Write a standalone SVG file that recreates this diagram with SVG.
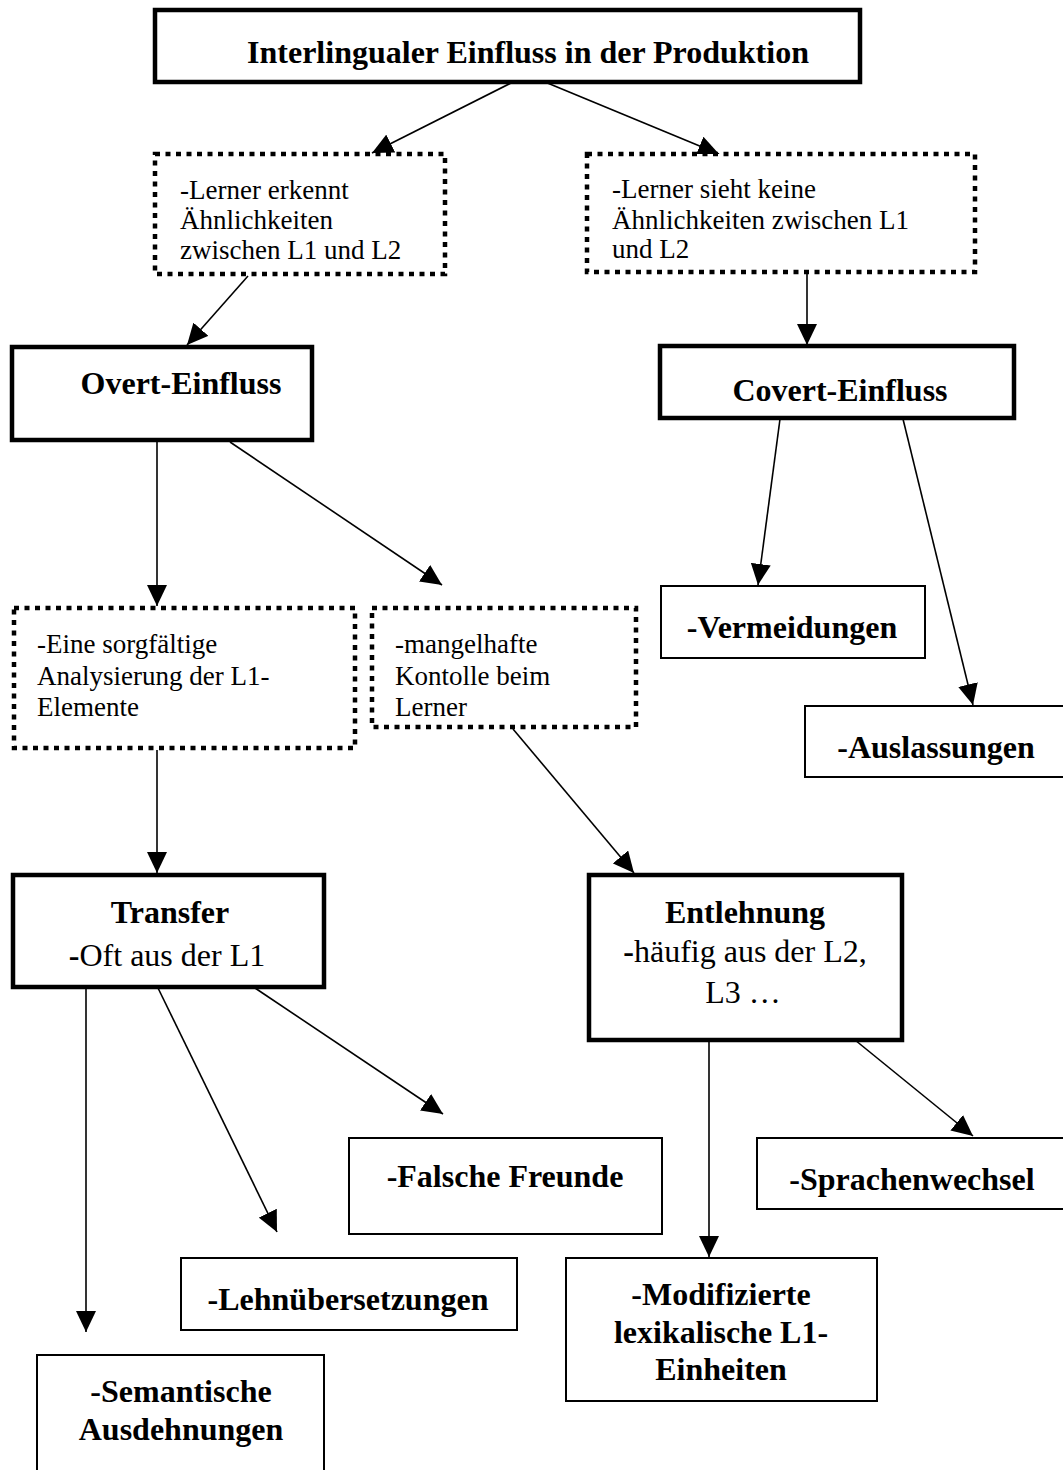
<svg xmlns="http://www.w3.org/2000/svg" width="1063" height="1470" viewBox="0 0 1063 1470">
<style>
.thick{fill:#fff;stroke:#000;stroke-width:4.5}
.thin{fill:#fff;stroke:#000;stroke-width:2}
.dot{fill:#fff;stroke:#000;stroke-width:4.5;stroke-dasharray:5 5.5}
.b{font-family:"Liberation Serif","Times New Roman",serif;font-weight:bold;font-size:32px;fill:#000}
.r{font-family:"Liberation Serif","Times New Roman",serif;font-size:32px;fill:#000}
.s{font-family:"Liberation Serif","Times New Roman",serif;font-size:27px;fill:#000}
.c{text-anchor:middle}
.ln{stroke:#000;stroke-width:1.6;fill:none;marker-end:url(#ah)}
</style>
<defs>
<marker id="ah" markerUnits="userSpaceOnUse" markerWidth="22" markerHeight="20" refX="21" refY="10" orient="auto" viewBox="0 0 22 20">
<path d="M0,0 L21,10 L0,20 z" fill="#000"/>
</marker>
</defs>
<rect width="1063" height="1470" fill="#fff"/>
<g id="connectors">
<line class="ln" x1="513" y1="82" x2="372" y2="153"/>
<line class="ln" x1="545" y1="82" x2="719" y2="154"/>
<line class="ln" x1="248" y1="276" x2="187" y2="345"/>
<line class="ln" x1="807" y1="273" x2="807" y2="345"/>
<line class="ln" x1="157" y1="441" x2="157" y2="606"/>
<line class="ln" x1="230" y1="442" x2="442" y2="585"/>
<line class="ln" x1="780" y1="419" x2="758" y2="585"/>
<line class="ln" x1="903" y1="419" x2="973" y2="705"/>
<line class="ln" x1="157" y1="750" x2="157" y2="873"/>
<line class="ln" x1="513" y1="729" x2="634" y2="873"/>
<line class="ln" x1="86" y1="988" x2="86" y2="1332"/>
<line class="ln" x1="158" y1="988" x2="277" y2="1232"/>
<line class="ln" x1="255" y1="988" x2="443" y2="1114"/>
<line class="ln" x1="709" y1="1040" x2="709" y2="1257"/>
<line class="ln" x1="855" y1="1040" x2="973" y2="1136"/>
</g>
<g id="top">
<rect class="thick" x="155" y="10" width="705" height="72"/>
<text class="b c" x="528" y="63">Interlingualer Einfluss in der Produktion</text>
</g>
<g id="dot1">
<rect class="dot" x="155" y="154" width="290" height="120"/>
<text class="s" x="180" y="199">-Lerner erkennt</text>
<text class="s" x="180" y="229">Ähnlichkeiten</text>
<text class="s" x="180" y="259">zwischen L1 und L2</text>
</g>
<g id="dot2">
<rect class="dot" x="587" y="154" width="388" height="118"/>
<text class="s" x="612" y="198">-Lerner sieht keine</text>
<text class="s" x="612" y="229">Ähnlichkeiten zwischen L1</text>
<text class="s" x="612" y="258">und L2</text>
</g>
<g id="overt">
<rect class="thick" x="12" y="347" width="300" height="93"/>
<text class="b c" x="181" y="394">Overt-Einfluss</text>
</g>
<g id="covert">
<rect class="thick" x="660" y="346" width="354" height="72"/>
<text class="b c" x="840" y="401">Covert-Einfluss</text>
</g>
<g id="dot3">
<rect class="dot" x="14" y="608" width="341" height="140"/>
<text class="s" x="37" y="653">-Eine sorgfältige</text>
<text class="s" x="37" y="685">Analysierung der L1-</text>
<text class="s" x="37" y="716">Elemente</text>
</g>
<g id="dot4">
<rect class="dot" x="372" y="608" width="264" height="119"/>
<text class="s" x="395" y="653">-mangelhafte</text>
<text class="s" x="395" y="685">Kontolle beim</text>
<text class="s" x="395" y="716">Lerner</text>
</g>
<g id="vermeidungen">
<rect class="thin" x="661" y="586" width="264" height="72"/>
<text class="b c" x="792" y="638">-Vermeidungen</text>
</g>
<g id="auslassungen">
<rect class="thin" x="805" y="706" width="270" height="71"/>
<text class="b c" x="936" y="758">-Auslassungen</text>
</g>
<g id="transfer">
<rect class="thick" x="13" y="875" width="311" height="112"/>
<text class="b c" x="170" y="923">Transfer</text>
<text class="r c" x="167" y="966"><tspan font-weight="bold">-</tspan>Oft aus der L1</text>
</g>
<g id="entlehnung">
<rect class="thick" x="589" y="875" width="313" height="165"/>
<text class="b c" x="745" y="923">Entlehnung</text>
<text class="r c" x="745" y="962"><tspan font-weight="bold">-</tspan>häufig aus der L2,</text>
<text class="r c" x="743" y="1003">L3 …</text>
</g>
<g id="falsche">
<rect class="thin" x="349" y="1138" width="313" height="96"/>
<text class="b c" x="505" y="1187">-Falsche Freunde</text>
</g>
<g id="sprachenwechsel">
<rect class="thin" x="757" y="1138" width="318" height="71"/>
<text class="b c" x="912" y="1190">-Sprachenwechsel</text>
</g>
<g id="lehn">
<rect class="thin" x="181" y="1258" width="336" height="72"/>
<text class="b c" x="348" y="1310">-Lehnübersetzungen</text>
</g>
<g id="modifizierte">
<rect class="thin" x="566" y="1258" width="311" height="143"/>
<text class="b c" x="721" y="1305">-Modifizierte</text>
<text class="b c" x="721" y="1343">lexikalische L1-</text>
<text class="b c" x="721" y="1380">Einheiten</text>
</g>
<g id="semantische">
<rect class="thin" x="37" y="1355" width="287" height="130"/>
<text class="b c" x="181" y="1402">-Semantische</text>
<text class="b c" x="181" y="1440">Ausdehnungen</text>
</g>
</svg>
